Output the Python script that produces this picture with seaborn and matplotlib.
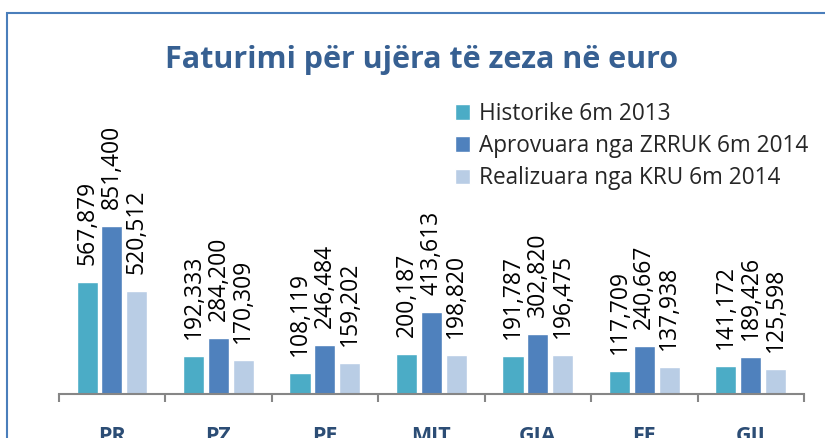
import matplotlib
matplotlib.use("Agg")
import matplotlib.pyplot as plt
import seaborn as sns
import pandas as pd
import numpy as np
from matplotlib.patches import Rectangle

categories = ["PR", "PZ", "PE", "MIT", "GJA", "FE", "GJI"]
series = ["Historike 6m 2013", "Aprovuara nga ZRRUK 6m 2014", "Realizuara nga KRU 6m 2014"]
historike = [567879, 192333, 108119, 200187, 191787, 117709, 141172]
aprovuara = [851400, 284200, 246484, 413613, 302820, 240667, 189426]
realizuara = [520512, 170309, 159202, 198820, 196475, 137938, 125598]
colors = ["#4BACC6", "#4F81BD", "#B9CDE5"]
title = "Faturimi për ujëra të zeza në euro"

W, H = 825, 438
sns.set_theme(style="white")
plt.rcParams['font.family'] = ['Open Sans', 'DejaVu Sans']

fig = plt.figure(figsize=(W / 100, H / 100), dpi=100)
ax = fig.add_axes([58.7 / W, (H - 394) / H, (804 - 58.7) / W, 197.7 / H])

df = pd.DataFrame({
    "cat": categories * 3,
    "series": [series[0]] * 7 + [series[1]] * 7 + [series[2]] * 7,
    "value": historike + aprovuara + realizuara,
})
sns.barplot(data=df, x="cat", y="value", hue="series", order=categories,
            hue_order=series, palette=colors, saturation=1, width=0.7, gap=0.15,
            ax=ax, legend=True, errorbar=None)

for cont in ax.containers:
    for bar in cont:
        v = bar.get_height()
        ax.annotate(f"{int(round(v)):,}", xy=(bar.get_x() + bar.get_width() / 2, v),
                    xytext=(0, 12.2), textcoords="offset points", rotation=90,
                    ha="center", va="bottom", fontsize=16.5, color="black",
                    annotation_clip=False)

ax.set_ylim(0, 1_000_000)
ax.set_xlim(-0.5, 6.5)
ax.set_yticks([])
ax.set_xlabel("")
ax.set_ylabel("")
for s in ["top", "left", "right"]:
    ax.spines[s].set_visible(False)
ax.spines["bottom"].set_color("#868686")
ax.spines["bottom"].set_linewidth(1.5)
ax.set_xticks(range(len(categories)))
ax.set_xticklabels(categories, fontsize=15.5, fontweight="bold", color="#2C4D75")
ax.set_xticks(np.arange(-0.5, 7, 1), minor=True)
ax.tick_params(axis="x", which="major", length=0, pad=23, bottom=True)
ax.tick_params(axis="x", which="minor", length=5.8, width=1.5, color="#868686",
               direction="out", bottom=True)

sns.move_legend(ax, loc="upper left", bbox_to_anchor=(455 / W, (H - 102) / H),
                bbox_transform=fig.transFigure, frameon=False, title=None,
                fontsize=16.3, borderpad=0, borderaxespad=0, handlelength=0.68,
                handleheight=0.68, handletextpad=0.36, labelspacing=0.36)

fig.text(422 / W, (H - 67.7) / H, title, ha="center", va="baseline",
         fontsize=22, fontweight="bold", color="#376092")

fig.patches.append(Rectangle((6.7 / W, -0.1), 1.2, (H - 12.7) / H + 0.1,
                             transform=fig.transFigure, fill=False,
                             edgecolor="#4A7EBB", lw=1.5))

fig.savefig("out.png", dpi=100)
